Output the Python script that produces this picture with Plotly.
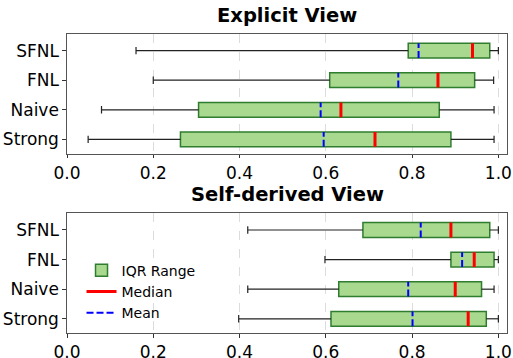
import plotly.graph_objects as go
from plotly.subplots import make_subplots

categories = ["Strong", "Naive", "FNL", "SFNL"]
titles = ["Explicit View", "Self-derived View"]

# Explicit view (order: Strong, Naive, FNL, SFNL)
exp_low = [0.049, 0.080, 0.200, 0.160]
exp_q1 = [0.263, 0.305, 0.609, 0.791]
exp_med = [0.714, 0.635, 0.860, 0.940]
exp_mean = [0.595, 0.588, 0.768, 0.815]
exp_q3 = [0.890, 0.863, 0.945, 0.980]
exp_high = [0.990, 0.990, 0.989, 1.000]

# Self-derived view
sd_low = [0.398, 0.419, 0.598, 0.419]
sd_q1 = [0.612, 0.630, 0.890, 0.686]
sd_med = [0.930, 0.900, 0.944, 0.890]
sd_mean = [0.801, 0.791, 0.916, 0.820]
sd_q3 = [0.972, 0.961, 0.990, 0.980]
sd_high = [1.000, 0.990, 1.000, 1.000]

xticks = [0.0, 0.2, 0.4, 0.6, 0.8, 1.0]

FONT = "DejaVu Sans"
BOX_FILL = "#a9d98f"
BOX_EDGE = "#2f7d2f"

fig = make_subplots(rows=2, cols=1, vertical_spacing=0.2)

datasets = [
    (exp_low, exp_q1, exp_med, exp_mean, exp_q3, exp_high),
    (sd_low, sd_q1, sd_med, sd_mean, sd_q3, sd_high),
]

for r, (lo, q1, med, mean, q3, hi) in enumerate(datasets, start=1):
    show = (r == 2)
    ypos = list(range(len(categories)))
    # whiskers
    wx, wy, cx, cy = [], [], [], []
    for i in ypos:
        wx += [lo[i], q1[i], None, q3[i], hi[i], None]
        wy += [i, i, None, i, i, None]
        cx += [lo[i], lo[i], None, hi[i], hi[i], None]
        cy += [i - 0.125, i + 0.125, None, i - 0.125, i + 0.125, None]
    fig.add_trace(go.Scatter(x=wx, y=wy, mode="lines", line=dict(color="#222222", width=1.2),
                             showlegend=False, hoverinfo="skip"), row=r, col=1)
    fig.add_trace(go.Scatter(x=cx, y=cy, mode="lines", line=dict(color="#222222", width=1.2),
                             showlegend=False, hoverinfo="skip"), row=r, col=1)
    # boxes
    fig.add_trace(go.Bar(y=ypos, x=[q3[i] - q1[i] for i in ypos], base=q1, orientation="h",
                         width=0.5, marker=dict(color=BOX_FILL, line=dict(color=BOX_EDGE, width=1.5)),
                         name="IQR Range", showlegend=show, legendrank=1), row=r, col=1)
    # medians and means
    mx, my, ax, ay = [], [], [], []
    for i in ypos:
        mx += [med[i], med[i], None]
        my += [i - 0.25, i + 0.25, None]
        ax += [mean[i], mean[i], None]
        ay += [i - 0.25, i + 0.25, None]
    fig.add_trace(go.Scatter(x=mx, y=my, mode="lines", line=dict(color="red", width=3),
                             name="Median", showlegend=show, legendrank=2), row=r, col=1)
    fig.add_trace(go.Scatter(x=ax, y=ay, mode="lines", line=dict(color="blue", width=2, dash="7px,3px"),
                             name="Mean", showlegend=show, legendrank=3), row=r, col=1)

    fig.update_xaxes(range=[0, 1.02], tickvals=xticks, ticktext=[f"{v:.1f}" for v in xticks],
                     showgrid=True, gridcolor="#dcdcdc", griddash="dash", gridwidth=0.8,
                     showline=True, linecolor="#555555", linewidth=1.4, mirror=True,
                     ticks="outside", ticklen=3.5, tickcolor="#333333", automargin=False,
                     tickfont=dict(size=17, color="black", family=FONT), zeroline=False,
                     row=r, col=1)
    fig.update_yaxes(range=[-0.48, 3.56], tickvals=ypos, ticktext=categories,
                     showgrid=False, showline=True, linecolor="#555555", linewidth=1.4, mirror=True,
                     ticks="outside", ticklen=3.5, tickcolor="#333333", automargin=False,
                     tickfont=dict(size=17, color="black", family=FONT), zeroline=False,
                     row=r, col=1)

fig.add_annotation(text="<b>" + titles[0] + "</b>", xref="paper", yref="paper", x=0.5, y=1.0,
                   yanchor="bottom", yshift=5, showarrow=False,
                   font=dict(size=19.5, color="black", family=FONT))
fig.add_annotation(text="<b>" + titles[1] + "</b>", xref="paper", yref="paper", x=0.5, y=0.4,
                   yanchor="bottom", yshift=5, showarrow=False,
                   font=dict(size=19.5, color="black", family=FONT))

fig.update_layout(
    width=513, height=358,
    margin=dict(l=67, r=6, t=34, b=25),
    plot_bgcolor="white", paper_bgcolor="white",
    barmode="overlay",
    font=dict(family=FONT, color="black"),
    legend=dict(x=0.033, y=0.262, xanchor="left", yanchor="top", bgcolor="rgba(0,0,0,0)",
                font=dict(size=14, family=FONT, color="black"), tracegroupgap=0),
)

fig.write_html("out.html", config={"displayModeBar": False},
               post_script="document.body.style.margin='0';document.body.style.overflow='hidden';")
